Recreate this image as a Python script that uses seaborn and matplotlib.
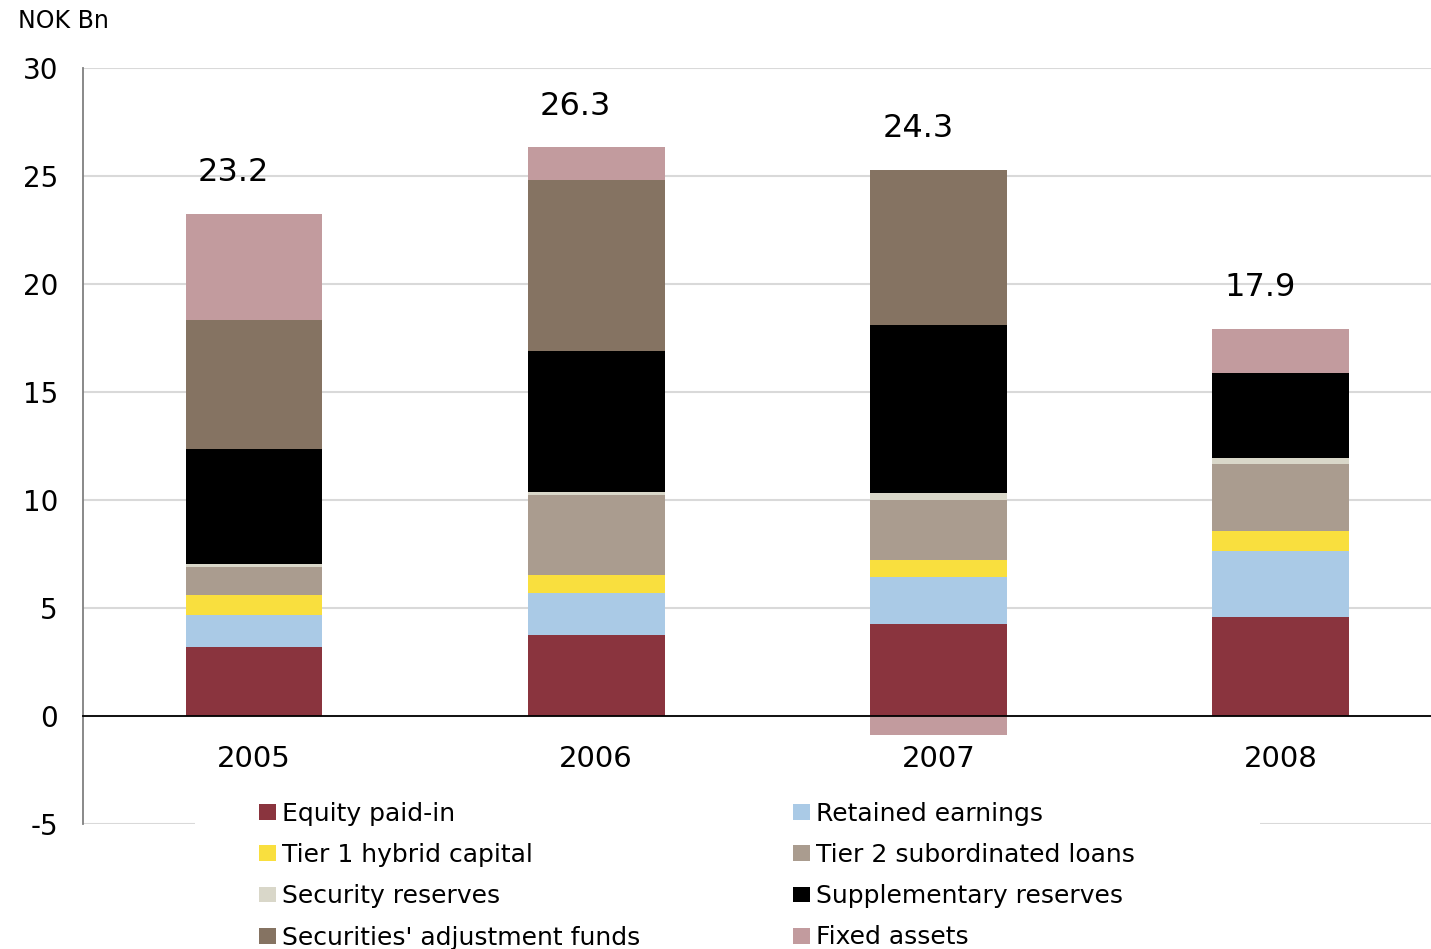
import numpy as np
import pandas as pd
import matplotlib
matplotlib.use("Agg")
import matplotlib.pyplot as plt
from matplotlib.patches import Patch, Rectangle
import seaborn as sns

# ---------------------------------- data ----------------------------------
years = ["2005", "2006", "2007", "2008"]
totals = [23.2, 26.3, 24.3, 17.9]

equity_paid_in = [3.19, 3.75, 4.26, 4.58]
retained_earnings = [1.48, 1.94, 2.18, 3.06]
tier1_hybrid = [0.93, 0.83, 0.79, 0.93]
tier2_subordinated = [1.30, 3.70, 2.78, 3.10]
security_reserves = [0.14, 0.14, 0.32, 0.28]
supplementary_reserves = [5.32, 6.53, 7.78, 3.94]
securities_adj_funds = [5.97, 7.92, 7.18, 0.0]
fixed_assets = [4.91, 1.53, -0.86, 2.04]

series = [
    ("Equity paid-in", equity_paid_in, "#8A343E"),
    ("Retained earnings", retained_earnings, "#AACAE6"),
    ("Tier 1 hybrid capital", tier1_hybrid, "#F9DF3E"),
    ("Tier 2 subordinated loans", tier2_subordinated, "#AA9C8F"),
    ("Security reserves", security_reserves, "#D9D7C9"),
    ("Supplementary reserves", supplementary_reserves, "#000000"),
    ("Securities' adjustment funds", securities_adj_funds, "#857362"),
    ("Fixed assets", fixed_assets, "#C29B9E"),
]

# ---------------------------------- plot ----------------------------------
sns.set_style("white")
plt.rcParams["font.family"] = ["DejaVu Sans"]
plt.rcParams["text.color"] = "black"
plt.rcParams["axes.unicode_minus"] = False

fig = plt.figure(figsize=(14.31, 9.49), dpi=100)
ax = fig.add_axes([83 / 1431, 1 - 824 / 949, (1431 - 83) / 1431, (824 - 68) / 949])

pos_bottom = np.zeros(len(years))
neg_bottom = np.zeros(len(years))
for name, vals, col in series:
    vals = np.array(vals)
    bottom = np.where(vals >= 0, pos_bottom, neg_bottom)
    df = pd.DataFrame({"year": years, "value": vals})
    sns.barplot(data=df, x="year", y="value", order=years, bottom=bottom,
                color=col, width=0.4, errorbar=None, saturation=1,
                linewidth=0, ax=ax, zorder=3)
    pos_bottom = pos_bottom + np.where(vals > 0, vals, 0)
    neg_bottom = neg_bottom + np.where(vals < 0, vals, 0)

# total labels above each stack
for i, t in enumerate(totals):
    ax.text(i - 0.06, pos_bottom[i] + 1.9, f"{t:.1f}", ha="center", va="center",
            fontsize=23, zorder=4)

ax.set_ylim(-5, 30)
ax.set_xlim(-0.5, 3.44)
ax.set_yticks(np.arange(-5, 31, 5))
ax.set_xlabel("")
ax.set_ylabel("")

ax.grid(axis="y", color="#D9D9D9", linewidth=1.5, zorder=0)
ax.grid(axis="x", visible=False)
for s in ["top", "right"]:
    ax.spines[s].set_visible(False)
ax.spines["left"].set_color("#808080")
ax.spines["left"].set_linewidth(1.3)
ax.spines["bottom"].set_position(("data", 0))
ax.spines["bottom"].set_color("black")
ax.spines["bottom"].set_linewidth(1.3)
ax.spines["bottom"].set_zorder(5)

ax.tick_params(axis="y", length=6, width=1.3, color="#808080", pad=12, labelsize=20,
               labelcolor="black")
ax.tick_params(axis="x", which="major", length=0, pad=21, labelsize=21, labelcolor="black")
ax.set_xticks([0.5, 1.5, 2.5], minor=True)
ax.tick_params(axis="x", which="minor", length=6, width=1.3, color="black", direction="out")

fig.text(18 / 1431, 1 - 21 / 949, "NOK Bn", fontsize=17, va="center", ha="left")

# white patch behind the legend (hides the bottom gridline there)
fig.patches.append(Rectangle((195 / 1431, 0), (1260 - 195) / 1431, 1 - 797 / 949,
                             transform=fig.transFigure, facecolor="white",
                             edgecolor="none", zorder=5))

# legend: column-major order so rows read as in the chart
order = [0, 2, 4, 6, 1, 3, 5, 7]
handles = [Patch(facecolor=series[k][2], edgecolor="none") for k in order]
labels = [series[k][0] for k in order]
leg = fig.legend(handles, labels, ncol=2, loc="upper left",
                 bbox_to_anchor=(255 / 1431, 1 - 798 / 949), bbox_transform=fig.transFigure,
                 frameon=False, fontsize=18, handlelength=0.68, handleheight=0.6,
                 handletextpad=0.25, labelspacing=0.69, columnspacing=6.1, borderpad=0.15,
                 borderaxespad=0)
leg.set_zorder(6)

fig.savefig("out.png", dpi=100)
